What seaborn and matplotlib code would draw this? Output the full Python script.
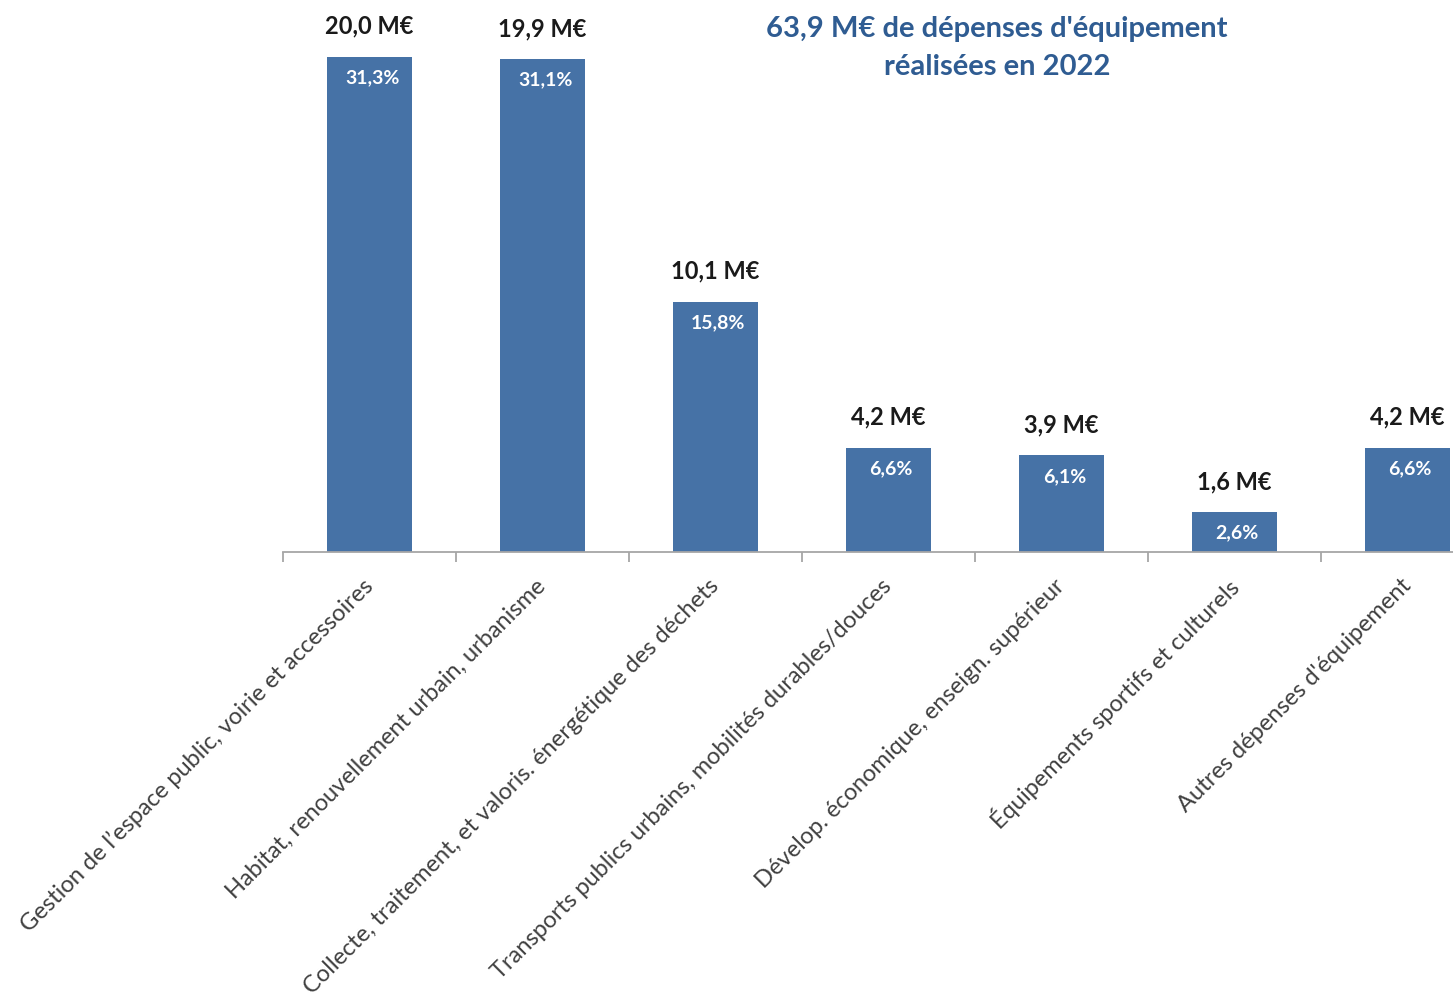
import matplotlib
matplotlib.use("Agg")
import matplotlib.pyplot as plt
import seaborn as sns
import numpy as np

categories = [
    "Gestion de l’espace public, voirie et accessoires",
    "Habitat, renouvellement urbain, urbanisme",
    "Collecte, traitement, et valoris. énergétique des déchets",
    "Transports publics urbains, mobilités durables/douces",
    "Dévelop. économique, enseign. supérieur",
    "Équipements sportifs et culturels",
    "Autres dépenses d'équipement",
]
amounts = [20.0, 19.9, 10.1, 4.2, 3.9, 1.6, 4.2]       # M€
shares = [31.3, 31.1, 15.8, 6.6, 6.1, 2.6, 6.6]        # %
title = "63,9 M€ de dépenses d'équipement\nréalisées en 2022"

BAR = "#4672A6"
TITLE_BLUE = "#2F5C92"

sns.set_style("white")
plt.rcParams["font.family"] = ["Lato", "DejaVu Sans"]

fig = plt.figure(figsize=(14.53, 9.96), dpi=100)
# axes run past the right edge, as in the cropped original
ax = fig.add_axes([283 / 1453, 444 / 996, 1211 / 1453, 552 / 996])

sns.barplot(x=categories, y=amounts, color=BAR, width=0.49, ax=ax,
            saturation=1, edgecolor="none")

ax.set_xlim(-0.5, len(categories) - 0.5)
ax.set_ylim(0, 22.3)
ax.set_xlabel("")
ax.set_ylabel("")
ax.set_yticks([])

for s in ("top", "right", "left"):
    ax.spines[s].set_visible(False)
ax.spines["bottom"].set_color("#A6A6A6")
ax.spines["bottom"].set_linewidth(1.3)

# ticks sit between categories, labels at the bar centres
ax.set_xticks(np.arange(len(categories)))
ax.set_xticks(np.arange(len(categories) + 1) - 0.5, minor=True)
ax.tick_params(axis="x", which="major", length=0, pad=22)
ax.tick_params(axis="x", which="minor", bottom=True, length=7,
               color="#A6A6A6", width=1.3)
ax.set_xticklabels(categories, rotation=45, ha="right", va="center",
                   rotation_mode="anchor", fontsize=17, color="#404040")

for i, (v, p) in enumerate(zip(amounts, shares)):
    ax.annotate(f"{v:.1f} M€".replace(".", ","), (i, v), xytext=(0, 14),
                textcoords="offset points", ha="center", va="bottom",
                fontsize=17, fontweight="bold", color="#1A1A1A")
    ax.annotate(f"{p:.1f}%".replace(".", ","), (i, v), xytext=(2, -15),
                textcoords="offset points", ha="center", va="center",
                fontsize=14, fontweight="bold", color="white")

fig.text(997 / 1453, 1 - 48 / 996, title, ha="center", va="center",
         fontsize=21, fontweight="bold", color=TITLE_BLUE, linespacing=1.55)

fig.savefig("out.png", dpi=100)
